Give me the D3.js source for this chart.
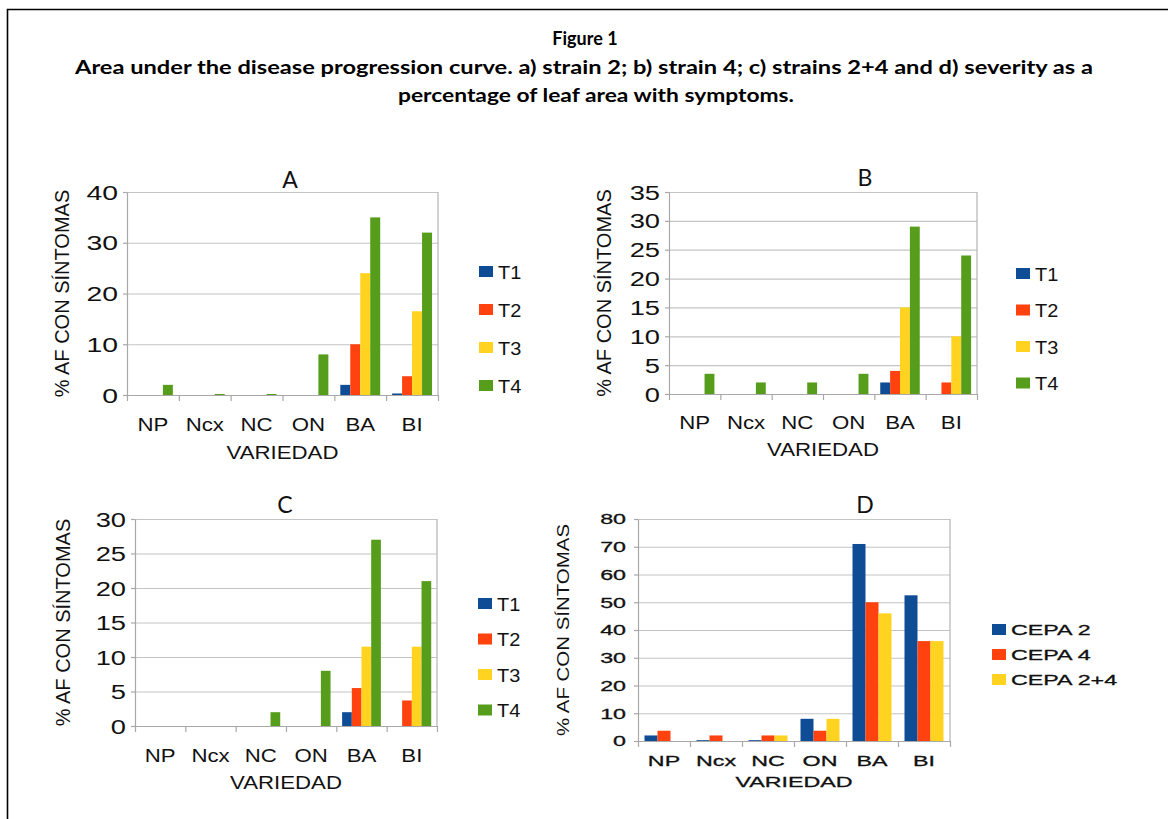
<!DOCTYPE html>
<html>
<head>
<meta charset="utf-8">
<script src="https://cdn.jsdelivr.net/npm/d3@7"></script>
<style>
  body { margin: 0; background: #fff; }
  svg { display: block; }
</style>
</head>
<body>
<div id="chart"></div>
<script>
// categories and series
const categories = ['NP', 'Ncx', 'NC', 'ON', 'BA', 'BI'];
const treatments = ['T1', 'T2', 'T3', 'T4'];
const strains = ['CEPA 2', 'CEPA 4', 'CEPA 2+4'];

// A) strain 2
const aT1 = [0, 0, 0, 0, 2, 0.3];
const aT2 = [0, 0, 0, 0, 10, 3.7];
const aT3 = [0, 0, 0, 0, 24, 16.5];
const aT4 = [2, 0.2, 0.2, 8, 35, 32];
// B) strain 4
const bT1 = [0, 0, 0, 0, 2, 0];
const bT2 = [0, 0, 0, 0, 4, 2];
const bT3 = [0, 0, 0, 0, 15, 10];
const bT4 = [3.5, 2, 2, 3.5, 29, 24];
// C) strains 2+4
const cT1 = [0, 0, 0, 0, 2, 0];
const cT2 = [0, 0, 0, 0, 5.5, 3.7];
const cT3 = [0, 0, 0, 0, 11.5, 11.5];
const cT4 = [0, 0, 2, 8, 27, 21];
// D) severity
const dCepa2 = [2, 0.3, 0.3, 8, 71, 52.5];
const dCepa4 = [3.7, 2, 2, 3.7, 50, 36];
const dCepa24 = [0, 0, 2, 8, 46, 36];

const ticksA = [0, 10, 20, 30, 40];
const ticksB = [0, 5, 10, 15, 20, 25, 30, 35];
const ticksC = [0, 5, 10, 15, 20, 25, 30];
const ticksD = [0, 10, 20, 30, 40, 50, 60, 70, 80];

const colors = ['#0f4c96', '#ff420e', '#ffd320', '#579d1c'];
const yLabel = '% AF CON SÍNTOMAS';
const xLabel = 'VARIEDAD';

const W = 1168, H = 819;
const svg = d3.select('#chart').append('svg')
  .attr('width', W)
  .attr('height', H)
  .style('font-family', 'Liberation Sans, Arial, sans-serif');

svg.append('rect').attr('width', W).attr('height', H).attr('fill', '#fff');

// frame
svg.append('path')
  .attr('d', `M7.5,${H} V9.5 H${W}`)
  .attr('fill', 'none')
  .attr('stroke', '#000')
  .attr('stroke-width', 1.6);

// figure title
const titleFont = 'Lato, Open Sans, sans-serif';
svg.append('text')
  .attr('x', 585).attr('y', 45)
  .attr('text-anchor', 'middle')
  .style('font-family', titleFont).style('font-weight', 'bold').style('font-size', '18px')
  .text('Figure 1');
svg.append('text')
  .attr('x', 75).attr('y', 74)
  .attr('textLength', 1018).attr('lengthAdjust', 'spacingAndGlyphs')
  .style('font-family', titleFont).style('font-weight', 'bold').style('font-size', '18px')
  .text('Area under the disease progression curve. a) strain 2; b) strain 4; c) strains 2+4 and d) severity as a');
svg.append('text')
  .attr('x', 398).attr('y', 102)
  .attr('textLength', 396).attr('lengthAdjust', 'spacingAndGlyphs')
  .style('font-family', titleFont).style('font-weight', 'bold').style('font-size', '18px')
  .text('percentage of leaf area with symptoms.');

// text stretched horizontally, like the original scan
function wideText(g, x, y, txt, size, sx, anchor, heavy) {
  const t = g.append('text')
    .attr('transform', `translate(${x},${y}) scale(${sx},1)`)
    .attr('text-anchor', anchor || 'middle')
    .style('font-size', size + 'px')
    .attr('fill', '#111')
    .text(txt);
  if (heavy) t.attr('stroke', '#111').attr('stroke-width', heavy);
  return t;
}

function drawPanel(p) {
  const g = svg.append('g');

  const x = d3.scaleBand()
    .domain(categories)
    .range([p.x0, p.x1])
    .paddingInner(p.pad)
    .paddingOuter(p.pad / 2);

  const xs = d3.scaleBand()
    .domain(p.names)
    .range([0, x.bandwidth()]);

  const y = d3.scaleLinear()
    .domain([0, d3.max(p.ticks)])
    .range([p.y1, p.y0]);

  // gridlines
  g.append('g')
    .attr('transform', `translate(${p.x0},0)`)
    .call(d3.axisLeft(y).tickValues(p.ticks).tickSize(-(p.x1 - p.x0)).tickFormat(''))
    .call(s => s.select('.domain').remove())
    .call(s => s.selectAll('line').attr('stroke', '#c4c4c4').attr('stroke-width', 1.2));

  // right frame
  g.append('line')
    .attr('x1', p.x1).attr('x2', p.x1)
    .attr('y1', p.y0).attr('y2', p.y1)
    .attr('stroke', '#b4b4b4').attr('stroke-width', 1.2);

  // y axis line with small ticks
  g.append('g')
    .attr('transform', `translate(${p.x0},0)`)
    .call(d3.axisLeft(y).tickValues(p.ticks).tickSize(4).tickFormat('').tickSizeOuter(0))
    .call(s => s.selectAll('line,path').attr('stroke', '#a8a8a8').attr('stroke-width', 1.2));

  // x axis with boundary ticks
  const bounds = d3.scaleLinear().domain([0, categories.length]).range([p.x0, p.x1]);
  g.append('g')
    .attr('transform', `translate(0,${p.y1})`)
    .call(d3.axisBottom(bounds).tickValues(d3.range(categories.length + 1)).tickSize(6).tickFormat('').tickSizeOuter(0))
    .call(s => s.selectAll('line,path').attr('stroke', '#a8a8a8').attr('stroke-width', 1.2));

  // bars
  p.series.forEach((vals, si) => {
    g.append('g').selectAll('rect')
      .data(vals)
      .enter()
      .append('rect')
      .attr('x', (d, i) => x(categories[i]) + xs(p.names[si]))
      .attr('y', d => y(d))
      .attr('width', xs.bandwidth())
      .attr('height', d => y(0) - y(d))
      .attr('fill', colors[si]);
  });

  // tick labels
  p.ticks.forEach(t => {
    wideText(g, p.tickX, y(t) + p.tickSize * 0.36, String(t), p.tickSize, p.tickSx, 'end', p.heavy);
  });

  // category labels
  categories.forEach(c => {
    wideText(g, x(c) + x.bandwidth() / 2, p.catY, c, p.catSize, p.catSx, 'middle', p.heavy);
  });

  wideText(g, (p.x0 + p.x1) / 2, p.xLabY, xLabel, p.catSize, p.catSx, 'middle', p.heavy);

  // y label
  const yl = g.append('text')
    .attr('transform', `translate(${p.yLabX},${(p.y0 + p.y1) / 2}) rotate(-90)`)
    .attr('text-anchor', 'middle')
    .attr('fill', '#111')
    .style('font-size', p.yLabSize + 'px')
    .text(yLabel);
  if (p.yLabLen) {
    yl.attr('textLength', p.yLabLen).attr('lengthAdjust', 'spacingAndGlyphs')
      .style('font-family', 'Liberation Sans Narrow, Liberation Sans, sans-serif');
  }

  // panel letter
  g.append('text')
    .attr('x', p.titleX).attr('y', p.titleY)
    .attr('text-anchor', 'middle')
    .attr('fill', '#111')
    .style('font-family', 'Lato, Open Sans, sans-serif')
    .style('font-size', '23px')
    .text(p.title);

  // legend
  p.names.forEach((n, i) => {
    const ly = p.legY + i * p.legStep;
    g.append('rect')
      .attr('x', p.legX).attr('y', ly - p.legBox / 2)
      .attr('width', p.legBox + 2).attr('height', p.legBox - 1)
      .attr('fill', colors[i]);
    wideText(g, p.legX + p.legBox + 7, ly + p.legSize * 0.36, n, p.legSize, p.legSx, 'start', p.heavy);
  });
}

drawPanel({
  title: 'A', titleX: 290, titleY: 188,
  x0: 127, x1: 438, y0: 192, y1: 395, pad: 0.23,
  ticks: ticksA, names: treatments, series: [aT1, aT2, aT3, aT4],
  tickX: 118, tickSize: 21, tickSx: 1.35,
  catY: 431, catSize: 19, catSx: 1.17, xLabY: 459,
  yLabX: 69, yLabSize: 20,
  legX: 479, legY: 272, legStep: 38, legBox: 12, legSize: 19, legSx: 1.05
});

drawPanel({
  title: 'B', titleX: 865, titleY: 186,
  x0: 669, x1: 977, y0: 192, y1: 394, pad: 0.23,
  ticks: ticksB, names: treatments, series: [bT1, bT2, bT3, bT4],
  tickX: 660, tickSize: 21, tickSx: 1.3,
  catY: 429, catSize: 19, catSx: 1.17, xLabY: 456,
  yLabX: 611, yLabSize: 20,
  legX: 1016, legY: 274, legStep: 36.5, legBox: 12, legSize: 19, legSx: 1.05
});

drawPanel({
  title: 'C', titleX: 285, titleY: 513,
  x0: 135, x1: 437, y0: 519, y1: 726, pad: 0.23,
  ticks: ticksC, names: treatments, series: [cT1, cT2, cT3, cT4],
  tickX: 126, tickSize: 21, tickSx: 1.3,
  catY: 762, catSize: 19, catSx: 1.17, xLabY: 789,
  yLabX: 70, yLabSize: 20,
  legX: 478, legY: 604, legStep: 35.5, legBox: 12, legSize: 19, legSx: 1.05
});

drawPanel({
  title: 'D', titleX: 865, titleY: 513,
  x0: 638, x1: 950, y0: 519, y1: 741, pad: 0.25,
  ticks: ticksD, names: strains, series: [dCepa2, dCepa4, dCepa24],
  tickX: 626, tickSize: 15, tickSx: 1.55, heavy: 0.3,
  catY: 766, catSize: 15, catSx: 1.55, xLabY: 787,
  yLabX: 569, yLabSize: 17, yLabLen: 212,
  legX: 992, legY: 630, legStep: 25, legBox: 12, legSize: 15, legSx: 1.55
});
</script>
</body>
</html>
